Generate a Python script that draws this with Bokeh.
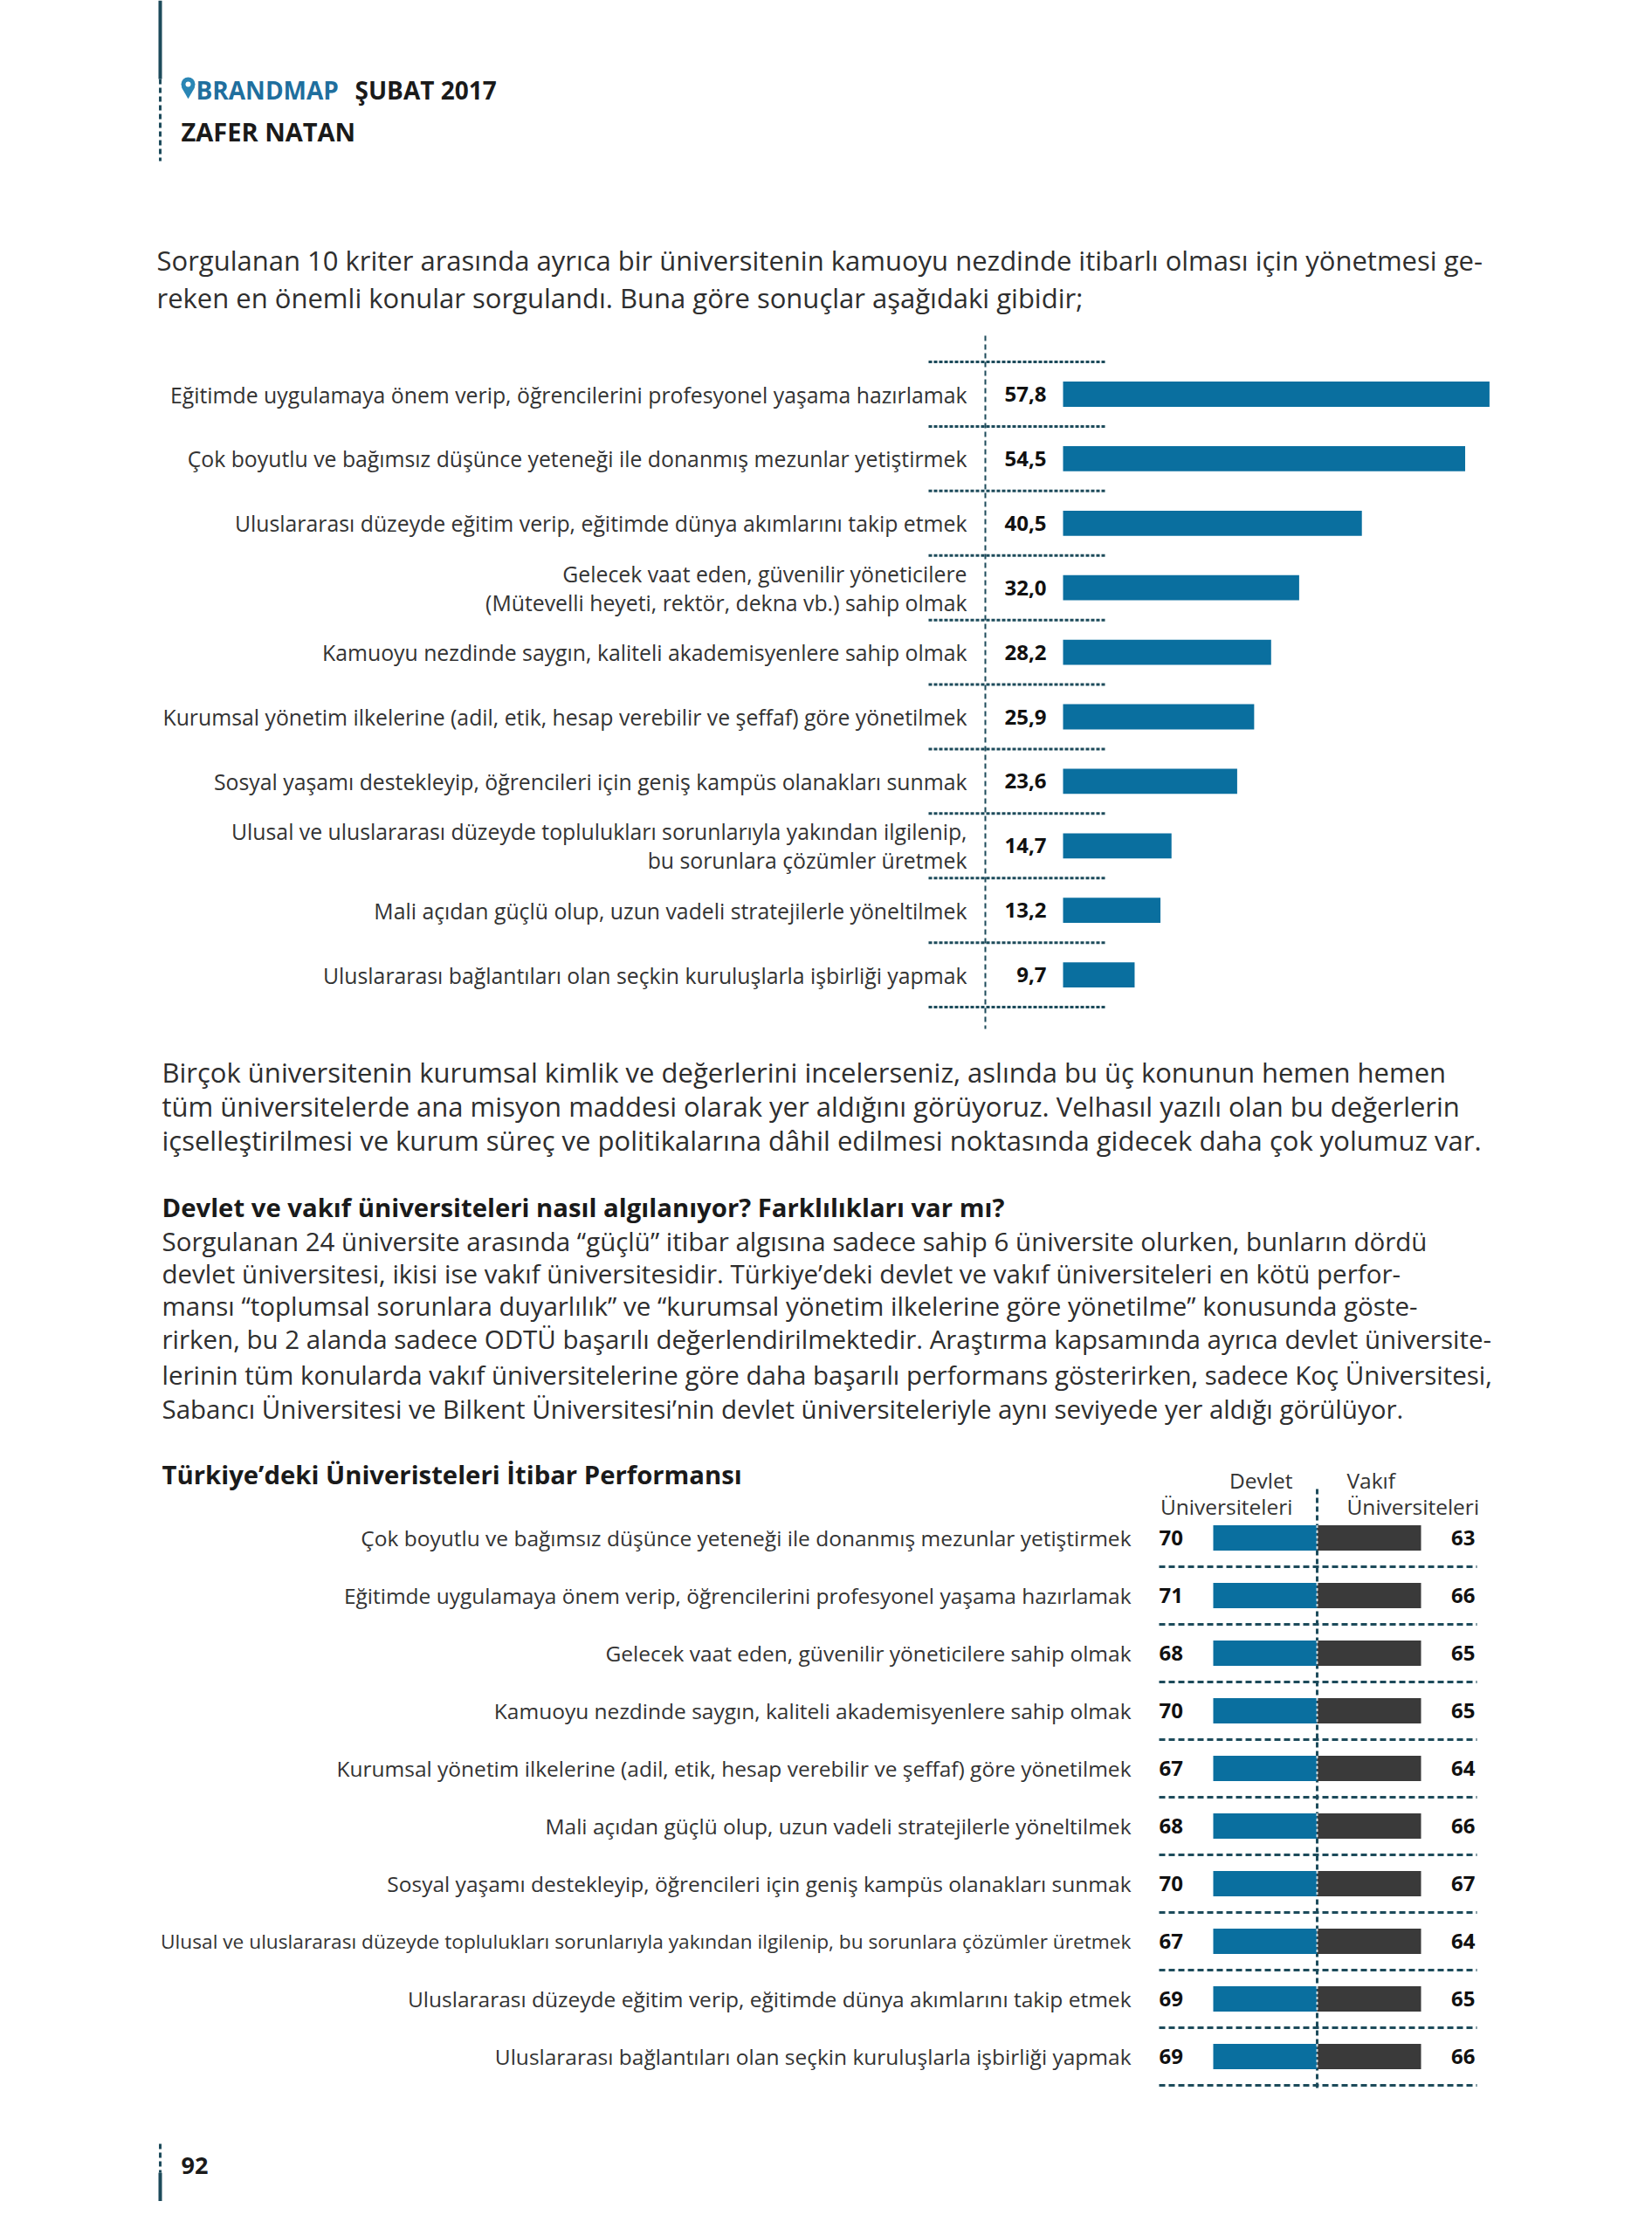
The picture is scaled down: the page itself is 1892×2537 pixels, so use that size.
from bokeh.plotting import figure
from bokeh.models import Range1d, ColumnDataSource
from bokeh.core.properties import value
from bokeh.embed import file_html
from bokeh.resources import INLINE

# ---------------- data ----------------
crit_labels = [
    "Eğitimde uygulamaya önem verip, öğrencilerini profesyonel yaşama hazırlamak",
    "Çok boyutlu ve bağımsız düşünce yeteneği ile donanmış mezunlar yetiştirmek",
    "Uluslararası düzeyde eğitim verip, eğitimde dünya akımlarını takip etmek",
    "Gelecek vaat eden, güvenilir yöneticilere\n(Mütevelli heyeti, rektör, dekna vb.) sahip olmak",
    "Kamuoyu nezdinde saygın, kaliteli akademisyenlere sahip olmak",
    "Kurumsal yönetim ilkelerine (adil, etik, hesap verebilir ve şeffaf) göre yönetilmek",
    "Sosyal yaşamı destekleyip, öğrencileri için geniş kampüs olanakları sunmak",
    "Ulusal ve uluslararası düzeyde toplulukları sorunlarıyla yakından ilgilenip,\nbu sorunlara çözümler üretmek",
    "Mali açıdan güçlü olup, uzun vadeli stratejilerle yöneltilmek",
    "Uluslararası bağlantıları olan seçkin kuruluşlarla işbirliği yapmak",
]
crit_values = [57.8, 54.5, 40.5, 32.0, 28.2, 25.9, 23.6, 14.7, 13.2, 9.7]

uni_labels = [
    "Çok boyutlu ve bağımsız düşünce yeteneği ile donanmış mezunlar yetiştirmek",
    "Eğitimde uygulamaya önem verip, öğrencilerini profesyonel yaşama hazırlamak",
    "Gelecek vaat eden, güvenilir yöneticilere sahip olmak",
    "Kamuoyu nezdinde saygın, kaliteli akademisyenlere sahip olmak",
    "Kurumsal yönetim ilkelerine (adil, etik, hesap verebilir ve şeffaf) göre yönetilmek",
    "Mali açıdan güçlü olup, uzun vadeli stratejilerle yöneltilmek",
    "Sosyal yaşamı destekleyip, öğrencileri için geniş kampüs olanakları sunmak",
    "Ulusal ve uluslararası düzeyde toplulukları sorunlarıyla yakından ilgilenip, bu sorunlara çözümler üretmek",
    "Uluslararası düzeyde eğitim verip, eğitimde dünya akımlarını takip etmek",
    "Uluslararası bağlantıları olan seçkin kuruluşlarla işbirliği yapmak",
]
devlet_values = [70, 71, 68, 70, 67, 68, 70, 67, 69, 69]
vakif_values = [63, 66, 65, 65, 64, 66, 67, 64, 65, 66]
col_headers = ["Devlet\nÜniversiteleri", "Vakıf\nÜniversiteleri"]

para1 = [
    "Sorgulanan 10 kriter arasında ayrıca bir üniversitenin kamuoyu nezdinde itibarlı olması için yönetmesi ge-",
    "reken en önemli konular sorgulandı. Buna göre sonuçlar aşağıdaki gibidir;",
]
para2 = [
    "Birçok üniversitenin kurumsal kimlik ve değerlerini incelerseniz, aslında bu üç konunun hemen hemen",
    "tüm üniversitelerde ana misyon maddesi olarak yer aldığını görüyoruz. Velhasıl yazılı olan bu değerlerin",
    "içselleştirilmesi ve kurum süreç ve politikalarına dâhil edilmesi noktasında gidecek daha çok yolumuz var.",
]
heading3 = "Devlet ve vakıf üniversiteleri nasıl algılanıyor? Farklılıkları var mı?"
para3 = [
    "Sorgulanan 24 üniversite arasında “güçlü” itibar algısına sadece sahip 6 üniversite olurken, bunların dördü",
    "devlet üniversitesi, ikisi ise vakıf üniversitesidir. Türkiye’deki devlet ve vakıf üniversiteleri en kötü perfor-",
    "mansı “toplumsal sorunlara duyarlılık” ve “kurumsal yönetim ilkelerine göre yönetilme” konusunda göste-",
    "rirken, bu 2 alanda sadece ODTÜ başarılı değerlendirilmektedir. Araştırma kapsamında ayrıca devlet üniversite-",
    "lerinin tüm konularda vakıf üniversitelerine göre daha başarılı performans gösterirken, sadece Koç Üniversitesi,",
    "Sabancı Üniversitesi ve Bilkent Üniversitesi’nin devlet üniversiteleriyle aynı seviyede yer aldığı görülüyor.",
]
chart2_title = "Türkiye’deki Üniveristeleri İtibar Performansı"

# ---------------- style / layout ----------------
FONT = "Open Sans"
BLUE = "#0a6f9f"
DARK = "#3a3a3a"
TEAL = "#1d4b5b"
TXT = "#2e2e2e"

W, H = 1876, 2521
p = figure(width=W, height=H, x_range=Range1d(0, W), y_range=Range1d(H, 0),
           output_backend="svg", toolbar_location=None,
           x_axis_type=None, y_axis_type=None, min_border=0)
p.grid.visible = False
p.outline_line_color = None

# value / row scales for the two charts
X0, K = 1217, 8.45           # chart 1: value 0 position, px per unit
Y1, D1 = 451, 73.9           # chart 1: first row centre, row pitch
Y2, D2 = 1761, 66.0          # chart 2: first row centre, row pitch
p.extra_x_ranges = {"v1": Range1d((0 - X0) / K, (W - X0) / K)}
p.extra_y_ranges = {"r1": Range1d((H - Y1) / D1, (0 - Y1) / D1),
                    "r2": Range1d((H - Y2) / D2, (0 - Y2) / D2)}


def txt(x, y, s, size, color=TXT, bold=False, align="left", **kw):
    p.text(x=[x], y=[y], text=[s], text_font=value(FONT), text_font_size=f"{size}px",
           text_font_style="bold" if bold else "normal", text_color=color,
           text_align=align, text_baseline="middle", **kw)


# ---------------- page header ----------------
p.segment(x0=[183], y0=[0], x1=[183], y1=[90], line_color=TEAL, line_width=4)
p.segment(x0=[183], y0=[90], x1=[183], y1=[184], line_color=TEAL, line_width=3, line_dash="6 4")
p.scatter(x=[215], y=[104], marker="inverted_triangle", size=15, fill_color="#2a86b5", line_color=None)
p.scatter(x=[215], y=[96], marker="circle", size=16, fill_color="#2a86b5", line_color=None)
p.scatter(x=[215], y=[96], marker="circle", size=6, fill_color="white", line_color=None)
txt(224, 102, "BRANDMAP", 28, color="#1f6f9e", bold=True)
txt(406, 102, "ŞUBAT 2017", 28, color="#1a1a1a", bold=True)
txt(207, 150, "ZAFER NATAN", 29, color="#1a1a1a", bold=True)

# ---------------- paragraph 1 ----------------
for i, line in enumerate(para1):
    txt(179, 297 + 43 * i, line, 31)

# ---------------- chart 1 ----------------
rows1 = list(range(len(crit_values)))
src1 = ColumnDataSource(dict(row=rows1, val=crit_values, label=crit_labels,
                             vtxt=[f"{v:.1f}".replace(".", ",") for v in crit_values]))
bounds1 = ColumnDataSource(dict(y=[r - 0.5 for r in rows1] + [rows1[-1] + 0.5]))
p.segment(x0=1128, x1=1128, y0=384, y1=1178, line_color=TEAL, line_width=2, line_dash="6 4")
p.segment(x0=1063, x1=1266, y0="y", y1="y", source=bounds1, y_range_name="r1",
          line_color=TEAL, line_width=3, line_dash="4 2")
p.hbar(y="row", left=0, right="val", height=0.39, source=src1, fill_color=BLUE,
       line_color=None, x_range_name="v1", y_range_name="r1")
p.text(x=1107, y="row", text="label", source=src1, y_range_name="r1",
       text_font=value(FONT), text_font_size="24.8px", text_color="#333333",
       text_align="right", text_baseline="middle", text_line_height=0.96)
p.text(x=0, x_offset=-19, y="row", text="vtxt", source=src1, x_range_name="v1", y_range_name="r1",
       text_font=value(FONT), text_font_size="24px", text_font_style="bold", text_color="#111111",
       text_align="right", text_baseline="middle")

# ---------------- paragraph 2 / 3 ----------------
for i, line in enumerate(para2):
    txt(185, 1227 + 39 * i, line, 31)
txt(185, 1382, heading3, 29.3, color="#1a1a1a", bold=True)
for line, yy in zip(para3, [1421, 1458, 1495, 1533, 1574, 1613]):
    txt(185, yy, line, 29.5)

# ---------------- chart 2 ----------------
txt(185, 1688, chart2_title, 29.3, color="#1a1a1a", bold=True)
C2, L2 = 1508, 119
rows2 = list(range(len(devlet_values)))
src2 = ColumnDataSource(dict(row=rows2, label=uni_labels, dv=[str(v) for v in devlet_values],
                             vv=[str(v) for v in vakif_values], sep=[r + 0.5 for r in rows2],
                             lo=[r - 0.22 for r in rows2], hi=[r + 0.22 for r in rows2]))
dh, vh = col_headers[0].split("\n"), col_headers[1].split("\n")
txt(1480, 1695, dh[0], 24.5, color="#333333", align="right")
txt(1480, 1725, dh[1], 24.5, color="#333333", align="right")
txt(1542, 1695, vh[0], 24.5, color="#333333")
txt(1542, 1725, vh[1], 24.5, color="#333333")

p.segment(x0=C2, x1=C2, y0=1705, y1=2391, line_color=TEAL, line_width=3, line_dash="6 4")
p.segment(x0=1327, x1=1691, y0="sep", y1="sep", source=src2, y_range_name="r2",
          line_color=TEAL, line_width=3, line_dash="7 4")
p.hbar(y="row", left=C2 - L2, right=C2, height=0.44, source=src2, fill_color=BLUE,
       line_color=None, y_range_name="r2")
p.hbar(y="row", left=C2, right=C2 + L2, height=0.44, source=src2, fill_color=DARK,
       line_color=None, y_range_name="r2")
p.segment(x0=C2, x1=C2, y0="lo", y1="hi", source=src2, y_range_name="r2",
          line_color="white", line_width=2, line_dash="3 3", line_alpha=0.8)

long_mask = [len(s) > 90 for s in uni_labels]
src2a = ColumnDataSource(dict(row=[r for r, m in zip(rows2, long_mask) if not m],
                              label=[s for s, m in zip(uni_labels, long_mask) if not m]))
src2b = ColumnDataSource(dict(row=[r for r, m in zip(rows2, long_mask) if m],
                              label=[s for s, m in zip(uni_labels, long_mask) if m]))
p.text(x=1295, y="row", text="label", source=src2a, y_range_name="r2",
       text_font=value(FONT), text_font_size="24.5px", text_color="#333333",
       text_align="right", text_baseline="middle")
p.text(x=1295, y="row", text="label", source=src2b, y_range_name="r2",
       text_font=value(FONT), text_font_size="22.7px", text_color="#333333",
       text_align="right", text_baseline="middle")
p.text(x=1327, y="row", text="dv", source=src2, y_range_name="r2",
       text_font=value(FONT), text_font_size="24px", text_font_style="bold", text_color="#111111",
       text_align="left", text_baseline="middle")
p.text(x=1689, y="row", text="vv", source=src2, y_range_name="r2",
       text_font=value(FONT), text_font_size="24px", text_font_style="bold", text_color="#111111",
       text_align="right", text_baseline="middle")

# ---------------- footer ----------------
p.segment(x0=[183], y0=[2455], x1=[183], y1=[2488], line_color=TEAL, line_width=3, line_dash="6 4")
p.segment(x0=[183], y0=[2488], x1=[183], y1=[2530], line_color=TEAL, line_width=4)
txt(207, 2480, "92", 27, color="#1a1a1a", bold=True)

open("out.html", "w").write(file_html(p, INLINE))
